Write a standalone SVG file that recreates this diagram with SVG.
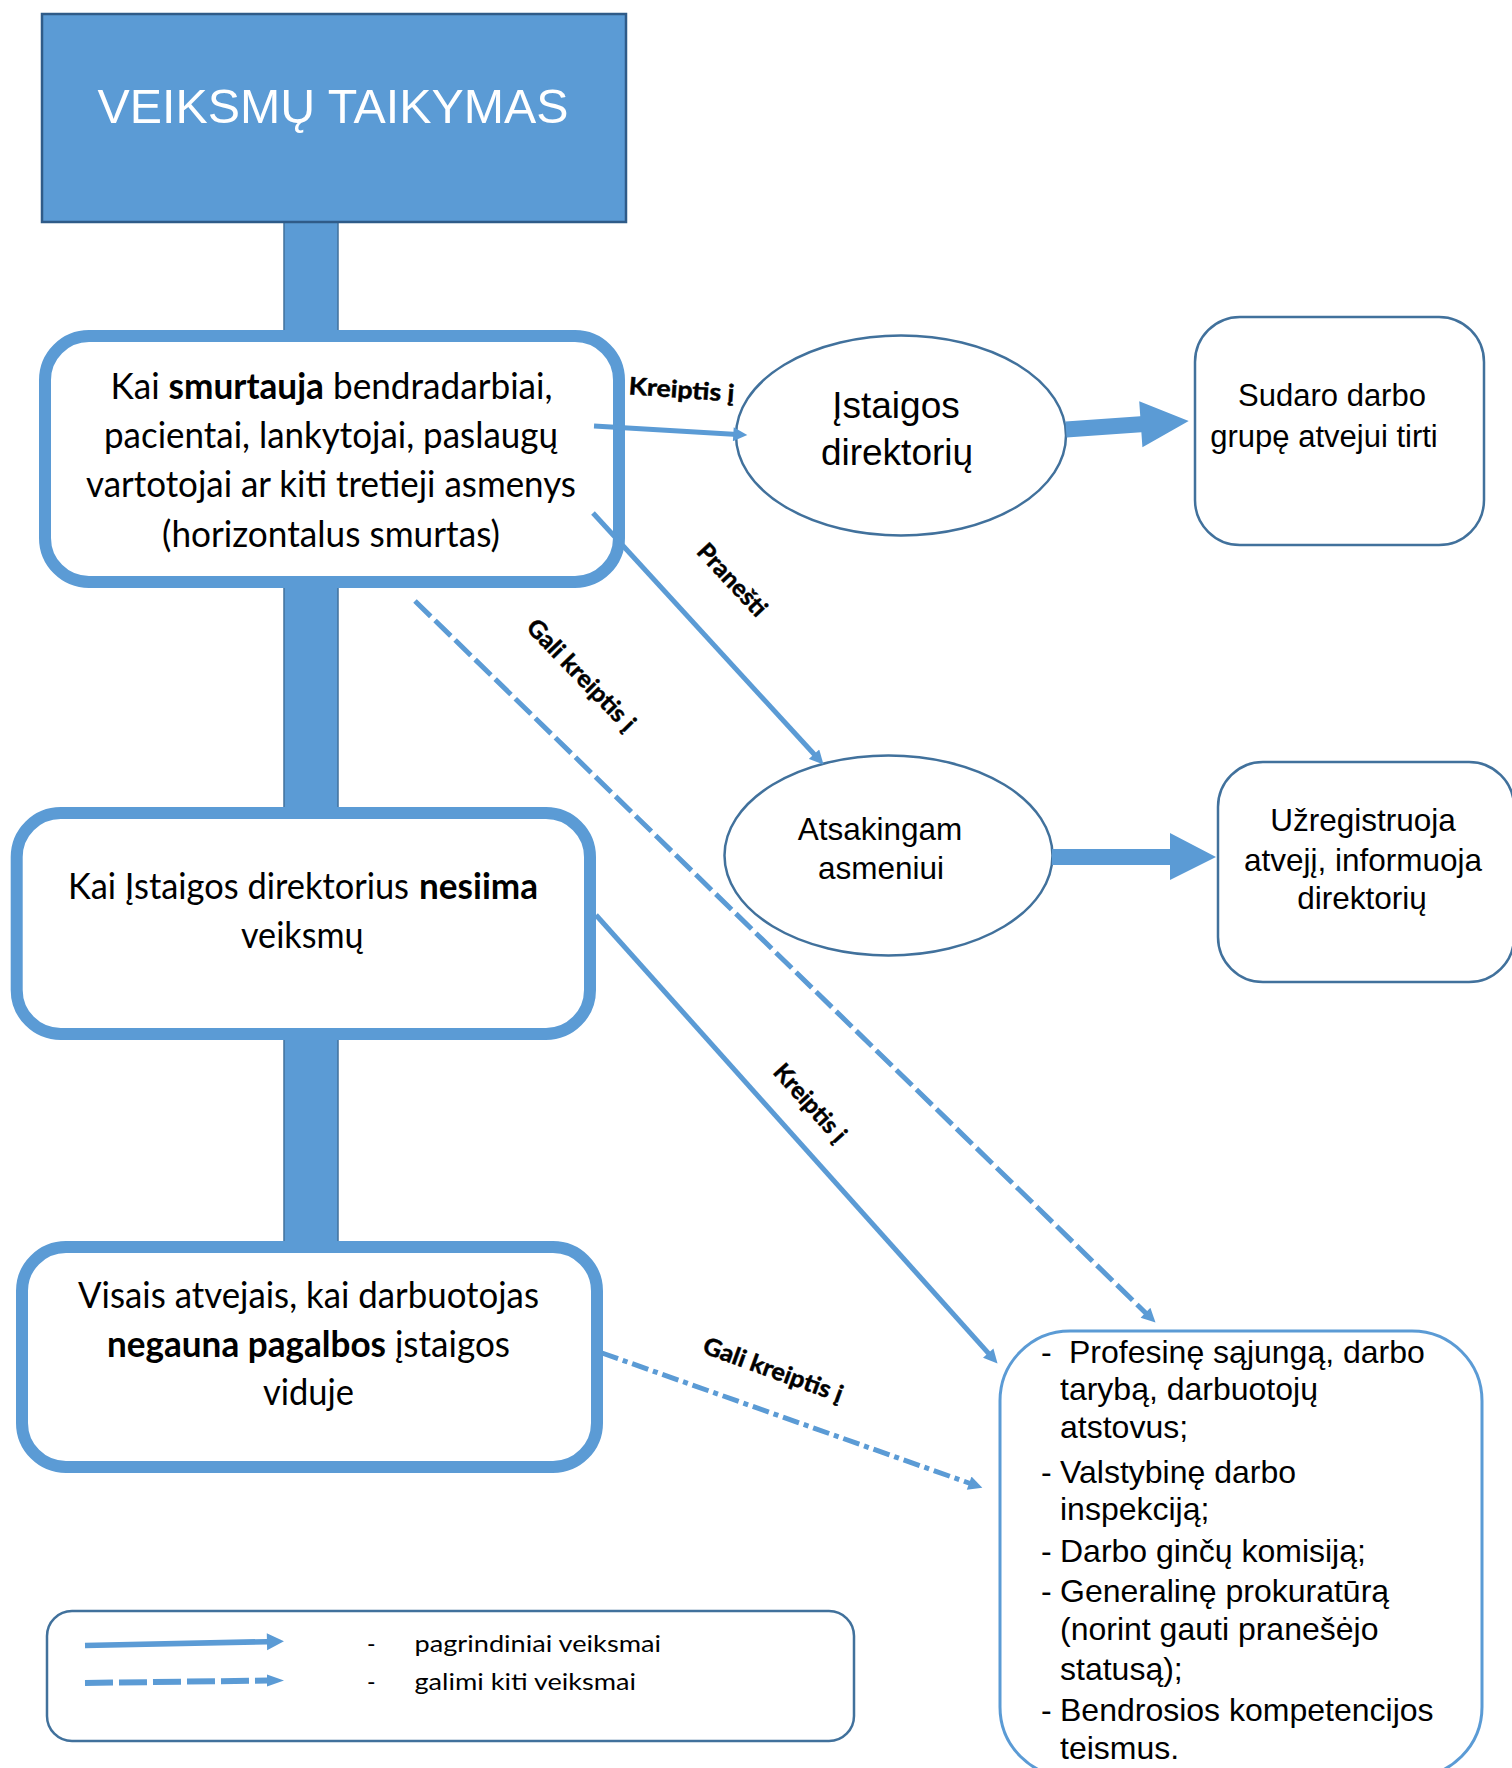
<svg xmlns="http://www.w3.org/2000/svg" width="1512" height="1768" viewBox="0 0 1512 1768">
<defs>
<style>
.cal{font-family:Lato,"Open Sans","Noto Sans",sans-serif;fill:#000}
.ari{font-family:"Liberation Sans",Arial,sans-serif;fill:#000}
.bx{fill:#fff;stroke:#5B9BD5;stroke-width:12}
.thin{fill:#fff;stroke:#41719C;stroke-width:2.5}
.ln{fill:none;stroke:#5B9BD5;stroke-width:5}
.lbl{font-family:Lato,"Open Sans","Noto Sans",sans-serif;font-weight:bold;font-size:24px;fill:#000;stroke:#000;stroke-width:0.5}
.blue{fill:#5B9BD5}
</style>
<marker id="ah" viewBox="0 0 10 10" markerWidth="15" markerHeight="14" refX="3" refY="5" orient="auto" markerUnits="userSpaceOnUse">
<path d="M0,0 L10,5 L0,10 z" fill="#5B9BD5"/>
</marker>
</defs>
<rect width="1512" height="1768" fill="#fff"/>

<g id="spine">
<rect x="284" y="222" width="54" height="1025" fill="#5B9BD5" stroke="#41719C" stroke-width="1.5"/>
</g>

<g id="title">
<rect x="42" y="14" width="584" height="208" fill="#5B9BD5" stroke="#2F5B88" stroke-width="2.5"/>
<text x="333" y="123" text-anchor="middle" font-family="Liberation Sans, Arial, sans-serif" font-size="48" fill="#fff" textLength="471" lengthAdjust="spacingAndGlyphs">VEIKSMŲ TAIKYMAS</text>
</g>

<g id="box-horizontal">
<rect class="bx" x="45" y="336" width="574" height="246" rx="44"/>
<text class="cal" font-size="36" x="110.5" y="399" textLength="442" lengthAdjust="spacingAndGlyphs">Kai <tspan font-weight="bold">smurtauja</tspan> bendradarbiai,</text>
<text class="cal" font-size="36" x="104" y="448" textLength="454" lengthAdjust="spacingAndGlyphs">pacientai, lankytojai, paslaugų</text>
<text class="cal" font-size="36" x="86" y="497" textLength="490" lengthAdjust="spacingAndGlyphs">vartotojai ar kiti tretieji asmenys</text>
<text class="cal" font-size="36" x="162" y="547" textLength="338" lengthAdjust="spacingAndGlyphs">(horizontalus smurtas)</text>
</g>

<g id="box-nesiima">
<rect class="bx" x="16.7" y="813" width="573.3" height="221" rx="44"/>
<text class="cal" font-size="36" x="68" y="899" textLength="341" lengthAdjust="spacingAndGlyphs">Kai Įstaigos direktorius</text>
<text class="cal" font-size="36" font-weight="bold" x="419" y="899" textLength="119" lengthAdjust="spacingAndGlyphs">nesiima</text>
<text class="cal" font-size="36" x="241" y="948" textLength="122.5" lengthAdjust="spacingAndGlyphs">veiksmų</text>
</g>

<g id="box-negauna">
<rect class="bx" x="22" y="1247" width="575" height="220" rx="44"/>
<text class="cal" font-size="36" x="78" y="1308" textLength="461" lengthAdjust="spacingAndGlyphs">Visais atvejais, kai darbuotojas</text>
<text class="cal" font-size="36" x="107" y="1357" textLength="403" lengthAdjust="spacingAndGlyphs"><tspan font-weight="bold">negauna pagalbos</tspan> įstaigos</text>
<text class="cal" font-size="36" x="263" y="1405" textLength="91" lengthAdjust="spacingAndGlyphs">viduje</text>
</g>

<g id="ellipse-direktoriu">
<ellipse class="thin" cx="901" cy="435.5" rx="165" ry="100"/>
<text class="ari" font-size="37" x="896" y="418" text-anchor="middle">Įstaigos</text>
<text class="ari" font-size="37" x="897" y="465" text-anchor="middle">direktorių</text>
</g>

<g id="box-sudaro">
<rect class="thin" x="1195" y="317" width="289" height="228" rx="45"/>
<text class="ari" font-size="31" x="1332" y="406" text-anchor="middle">Sudaro darbo</text>
<text class="ari" font-size="31" x="1324" y="447" text-anchor="middle">grupę atvejui tirti</text>
</g>

<g id="ellipse-atsakingam">
<ellipse class="thin" cx="888.5" cy="855.5" rx="164" ry="100"/>
<text class="ari" font-size="31.5" x="880" y="840" text-anchor="middle">Atsakingam</text>
<text class="ari" font-size="31.5" x="881" y="879" text-anchor="middle">asmeniui</text>
</g>

<g id="box-uzregistruoja">
<rect class="thin" x="1218" y="762" width="296" height="220" rx="45"/>
<text class="ari" font-size="31.5" x="1363" y="831" text-anchor="middle">Užregistruoja</text>
<text class="ari" font-size="31.5" x="1363" y="871" text-anchor="middle">atvejį, informuoja</text>
<text class="ari" font-size="31.5" x="1362" y="909" text-anchor="middle">direktorių</text>
</g>

<g id="box-institucijos">
<rect x="1000" y="1331" width="482" height="446" rx="70" fill="#fff" stroke="#5B9BD5" stroke-width="3"/>
<g class="ari" font-size="32">
<text x="1041" y="1363">-</text><text x="1069" y="1363">Profesinę sąjungą, darbo</text>
<text x="1060" y="1400">tarybą, darbuotojų</text>
<text x="1060" y="1438">atstovus;</text>
<text x="1041" y="1483">-</text><text x="1060" y="1483">Valstybinę darbo</text>
<text x="1060" y="1520">inspekciją;</text>
<text x="1041" y="1562">-</text><text x="1060" y="1562">Darbo ginčų komisiją;</text>
<text x="1041" y="1602">-</text><text x="1060" y="1602">Generalinę prokuratūrą</text>
<text x="1060" y="1640">(norint gauti pranešėjo</text>
<text x="1060" y="1680">statusą);</text>
<text x="1041" y="1721">-</text><text x="1060" y="1721">Bendrosios kompetencijos</text>
<text x="1060" y="1759">teismus.</text>
</g>
</g>

<g id="connectors">
<line class="ln" x1="594" y1="426" x2="737.5" y2="434.4" marker-end="url(#ah)"/>
<line class="ln" x1="593" y1="513" x2="816.9" y2="757.3" marker-end="url(#ah)"/>
<line class="ln" x1="415" y1="601" x2="1148.5" y2="1315.7" stroke-dasharray="22 6" marker-end="url(#ah)"/>
<line class="ln" x1="596" y1="915" x2="991" y2="1356.2" marker-end="url(#ah)"/>
<line class="ln" x1="602" y1="1353" x2="973.1" y2="1484.5" stroke-dasharray="17 5 5 5" stroke-width="6" marker-end="url(#ah)"/>
<polygon class="blue" transform="translate(1066,429.5) rotate(-4)" points="0,-8 75,-8 75,-23 123,0 75,23 75,8 0,8"/>
<polygon class="blue" points="1052,849 1170,849 1170,833 1216,857 1170,880 1170,865 1052,865"/>
<text class="lbl" transform="translate(681,398) rotate(4)" text-anchor="middle" textLength="106" lengthAdjust="spacingAndGlyphs">Kreiptis į</text>
<text class="lbl" transform="translate(732,580) rotate(47)" text-anchor="middle" y="8" textLength="90" lengthAdjust="spacingAndGlyphs">Pranešti</text>
<text class="lbl" transform="translate(581,675) rotate(46)" text-anchor="middle" y="8" textLength="145" lengthAdjust="spacingAndGlyphs">Gali kreiptis į</text>
<text class="lbl" transform="translate(810,1103) rotate(48)" text-anchor="middle" y="8" textLength="96" lengthAdjust="spacingAndGlyphs">Kreiptis į</text>
<text class="lbl" transform="translate(773,1370) rotate(20)" text-anchor="middle" y="8" textLength="147" lengthAdjust="spacingAndGlyphs">Gali kreiptis į</text>
</g>

<g id="legend">
<rect class="thin" x="47" y="1611" width="807" height="130" rx="25"/>
<polygon class="blue" transform="translate(85,1645.5) rotate(-1.2)" points="0,-2.8 182,-2.8 182,-8.5 199,0 182,8.5 182,2.8 0,2.8"/>
<line x1="85" y1="1683" x2="268" y2="1680.5" stroke="#5B9BD5" stroke-width="6" stroke-dasharray="28 6"/>
<polygon class="blue" points="267,1674.5 284,1680.5 267,1686.5"/>
<text class="cal" font-size="23" x="367" y="1652">-</text>
<text class="cal" font-size="23" x="414.5" y="1652" textLength="246.5" lengthAdjust="spacingAndGlyphs">pagrindiniai veiksmai</text>
<text class="cal" font-size="23" x="367" y="1690">-</text>
<text class="cal" font-size="23" x="414.5" y="1690" textLength="221.5" lengthAdjust="spacingAndGlyphs">galimi kiti veiksmai</text>
</g>
</svg>
